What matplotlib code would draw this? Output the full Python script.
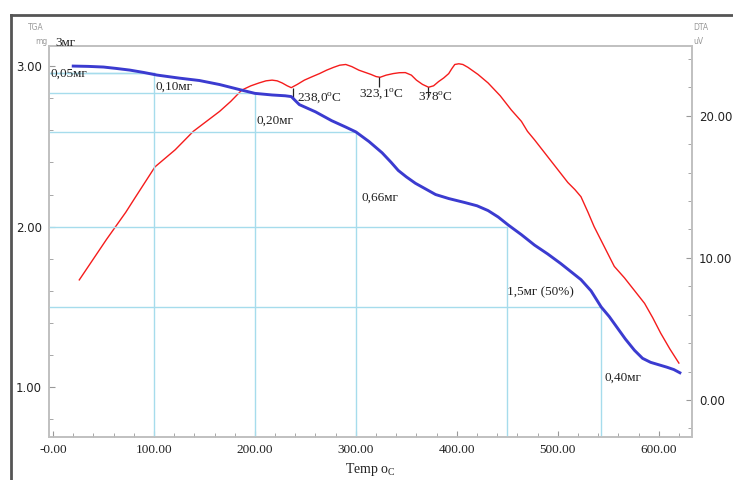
import matplotlib
matplotlib.use("Agg")
import matplotlib.pyplot as plt
from matplotlib.lines import Line2D
from matplotlib.ticker import MultipleLocator

plt.rcParams['mathtext.fontset'] = 'custom'
plt.rcParams['mathtext.rm'] = 'Liberation Serif'

# TGA curve (mass, mg) vs temperature
tga_temp = [20, 35, 50, 63, 76, 90, 103, 125, 145, 165, 187, 200, 217, 230, 236,
            244, 260, 276, 290, 300, 313, 326, 335, 342, 350, 359, 369, 379, 392,
            408, 420, 431, 441, 451, 464, 477, 490, 503, 513, 523, 533, 543, 551,
            559, 567, 576, 584, 592, 600, 608, 615, 621]
tga_mass = [3.00, 2.998, 2.994, 2.985, 2.975, 2.96, 2.944, 2.925, 2.91, 2.885,
            2.85, 2.83, 2.82, 2.815, 2.81, 2.76, 2.715, 2.66, 2.62, 2.59, 2.53,
            2.46, 2.40, 2.35, 2.31, 2.27, 2.235, 2.20, 2.175, 2.15, 2.13, 2.10,
            2.06, 2.01, 1.95, 1.885, 1.83, 1.77, 1.72, 1.67, 1.60, 1.50, 1.44,
            1.37, 1.30, 1.23, 1.18, 1.155, 1.14, 1.125, 1.11, 1.09]

# DTA curve (uV) vs temperature
dta_temp = [26, 35, 44, 53, 62, 72, 81, 91, 101, 111, 121, 130, 139, 152, 165,
            176, 187, 196, 204, 211, 217, 222, 227, 232, 236, 242, 249, 257, 264,
            271, 278, 284, 290, 296, 303, 309, 315, 320, 324, 330, 337, 343, 349,
            355, 360, 366, 372, 377, 382, 387, 392, 395, 398, 402, 406, 411, 421,
            431, 443, 454, 464, 470, 477, 488, 499, 510, 517, 523, 530, 536, 546,
            556, 566, 576, 586, 594, 602, 611, 620]
dta_uv = [8.45, 9.4, 10.35, 11.3, 12.2, 13.2, 14.2, 15.3, 16.4, 17.0, 17.6, 18.25,
          18.9, 19.6, 20.3, 21.0, 21.8, 22.1, 22.3, 22.45, 22.5, 22.45, 22.3, 22.1,
          21.97, 22.2, 22.5, 22.75, 22.96, 23.2, 23.4, 23.55, 23.6, 23.45, 23.2,
          23.05, 22.9, 22.75, 22.7, 22.85, 22.96, 23.02, 23.03, 22.85, 22.5, 22.2,
          22.0, 22.1, 22.4, 22.65, 22.96, 23.3, 23.6, 23.65, 23.6, 23.4, 22.9, 22.3,
          21.4, 20.4, 19.6, 18.9, 18.3, 17.3, 16.3, 15.3, 14.8, 14.3, 13.2, 12.2,
          10.8, 9.4, 8.6, 7.7, 6.8, 5.8, 4.7, 3.6, 2.6]

# reference guide lines (temperature, mass)
ref_temps = [100, 200, 300, 450, 543]
ref_masses = [2.955, 2.83, 2.59, 2.00, 1.50]
ref_first_mass = 2.955

# mass-loss labels: (text, temp, mass)
loss_labels = ["0,05мг", "0,10мг", "0,20мг", "0,66мг", "1,5мг (50%)", "0,40мг"]
loss_temps = [-3, 102, 202, 306, 450, 546]
loss_masses = [2.95, 2.87, 2.66, 2.18, 1.59, 1.06]

# DTA peak labels
peak_labels = [r"238,0$^\mathrm{o}$C", r"323,1$^\mathrm{o}$C", r"378$^\mathrm{o}$C"]
peak_temps = [238, 323, 371]
peak_uv = [21.97, 22.7, 22.0]
peak_text_temps = [242, 303, 362]
peak_text_uv = [21.3, 21.55, 21.3]

xticks = [0, 100, 200, 300, 400, 500, 600]
xticklabels = ["-0.00", "100.00", "200.00", "300.00", "400.00", "500.00", "600.00"]
yticks = [1, 2, 3]
yticklabels = ["1.00", "2.00", "3.00"]
y2ticks = [0, 10, 20]
y2ticklabels = ["0.00", "10.00", "20.00"]

XMIN, XMAX = -4, 633
YMIN, YMAX = 0.69, 3.125

fig = plt.figure(figsize=(7.33, 4.8), dpi=100)
ax = fig.add_axes([49 / 733, 43 / 480, 643 / 733, 391 / 480])
ax2 = ax.twinx()
ax.set_zorder(ax2.get_zorder() + 1)
ax.patch.set_visible(False)

cyan = '#a6dcec'
ax.plot([XMIN, ref_temps[0]], [ref_first_mass, ref_first_mass], color=cyan, lw=1)
for t, m in zip(ref_temps, ref_masses):
    ax.plot([XMIN, t], [m, m], color=cyan, lw=1)
    ax.plot([t, t], [m, YMIN], color=cyan, lw=1)

ax.plot(tga_temp, tga_mass, color='#3b3bd0', lw=2.1, solid_joinstyle='round')
ax2.plot(dta_temp, dta_uv, color='#f51c1c', lw=1.0)
ax2.plot(peak_temps, [u - 0.35 for u in peak_uv], ls='none', marker='|',
         ms=7, mew=0.9, color='#222222')

ax.set_xlim(XMIN, XMAX)
ax.set_ylim(YMIN, YMAX)
ax2.set_ylim(-2.6, 24.9)

ax.set_xticks(xticks)
ax.set_xticklabels(xticklabels, family='Liberation Serif', fontsize=9.5, color='#222222')
ax.xaxis.set_minor_locator(MultipleLocator(20))
ax.set_yticks(yticks)
ax.set_yticklabels(yticklabels, family='DejaVu Sans', fontsize=8.5, color='#222222')
ax.yaxis.set_minor_locator(MultipleLocator(0.2))
ax2.set_yticks(y2ticks)
ax2.set_yticklabels(y2ticklabels, family='DejaVu Sans', fontsize=8.5, color='#222222')
ax2.yaxis.set_minor_locator(MultipleLocator(2))

for a in (ax, ax2):
    a.tick_params(which='both', direction='in', color='#999999')
    a.tick_params(which='major', length=4, pad=5)
    a.tick_params(which='minor', length=3)
    for s in a.spines.values():
        s.set_color('#c0c0c0')
        s.set_linewidth(1.2)

ax.set_xlabel(r"Temp o$_\mathrm{C}$", family='Liberation Serif', fontsize=10,
              color='#222222', labelpad=4)

for txt, t, m in zip(loss_labels, loss_temps, loss_masses):
    ax.text(t, m, txt, family='Liberation Serif', fontsize=9.5, color='#222222',
            ha='left', va='center')
for txt, t, u in zip(peak_labels, peak_text_temps, peak_text_uv):
    ax2.text(t, u, txt, family='Liberation Serif', fontsize=9.5, color='#222222',
             ha='left', va='center')

ax.text(2.5, 3.143, "3мг", family='Liberation Serif', fontsize=9.5, color='#222222',
        ha='left', va='center', clip_on=False)

fig.text(28 / 733, 1 - 28 / 480, "TGA", fontsize=5.5, color='#999999', va='center')
fig.text(35 / 733, 1 - 42 / 480, "mg", fontsize=5.5, color='#999999', va='center')
fig.text(693 / 733, 1 - 28 / 480, "DTA", fontsize=5.5, color='#999999', va='center')
fig.text(693 / 733, 1 - 41 / 480, "uV", fontsize=5.5, color='#999999', va='center')

# dark outer frame lines
fig.add_artist(Line2D([11 / 733, 1], [1 - 15 / 480, 1 - 15 / 480], color='#555555', lw=2))
fig.add_artist(Line2D([11 / 733, 11 / 733], [0, 1 - 15 / 480], color='#555555', lw=2))

fig.savefig("out.png", dpi=100)
